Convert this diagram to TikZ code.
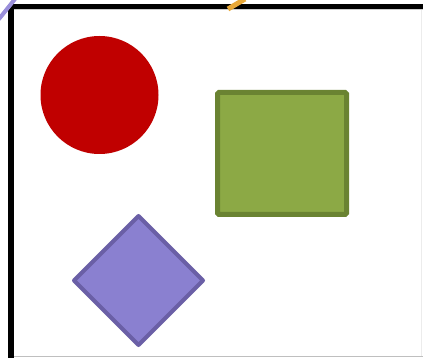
\documentclass[tikz,border=0pt]{standalone}
\usetikzlibrary{shapes.geometric}
\definecolor{redc}{HTML}{C00000}
\definecolor{greenf}{HTML}{8CA945}
\definecolor{greens}{HTML}{6A8332}
\definecolor{purf}{HTML}{8A80D0}
\definecolor{purs}{HTML}{6A5FA6}
\definecolor{bluestroke}{HTML}{9A8FDA}
\definecolor{orangestroke}{HTML}{E8A838}
\tikzset{
  shapebox/.style={inner sep=0pt, outer sep=0pt},
}
\begin{document}
\begin{tikzpicture}[x=1pt,y=-1pt]
\useasboundingbox (0,0) rectangle (423,358);
\fill[white] (0,0) rectangle (423,358);
% frame
\draw[gray!50, line width=1.2pt] (11,356.5) -- (423,356.5);
\draw[gray!15, line width=1.5pt] (421.5,9) -- (421.5,356);
\draw[gray!40, line width=0.8pt] (14,9.8) -- (423,9.8);
\draw[black, line width=5pt] (8,6.5) -- (423,6.5);
\draw[black, line width=5.5pt] (11,4) -- (11,358);
% strokes at top
\draw[bluestroke, line width=4pt, line cap=round] (-1,19) -- (15,-1);
\draw[orangestroke, line width=5pt] (228,9) -- (245,-1);
% shapes
\node[shapebox, circle, fill=redc, minimum size=118pt] (circ) at (99.5,95) {};
\node[shapebox, draw=greens, fill=greenf, line width=5pt, rounded corners=1.5pt,
      minimum width=129pt, minimum height=122pt] (sq) at (282,153.5) {};
\node[shapebox, diamond, draw=purs, fill=purf, line width=4pt, line join=round,
      minimum width=129pt, minimum height=129pt] (dia) at (138.5,280.5) {};
\end{tikzpicture}
\end{document}
